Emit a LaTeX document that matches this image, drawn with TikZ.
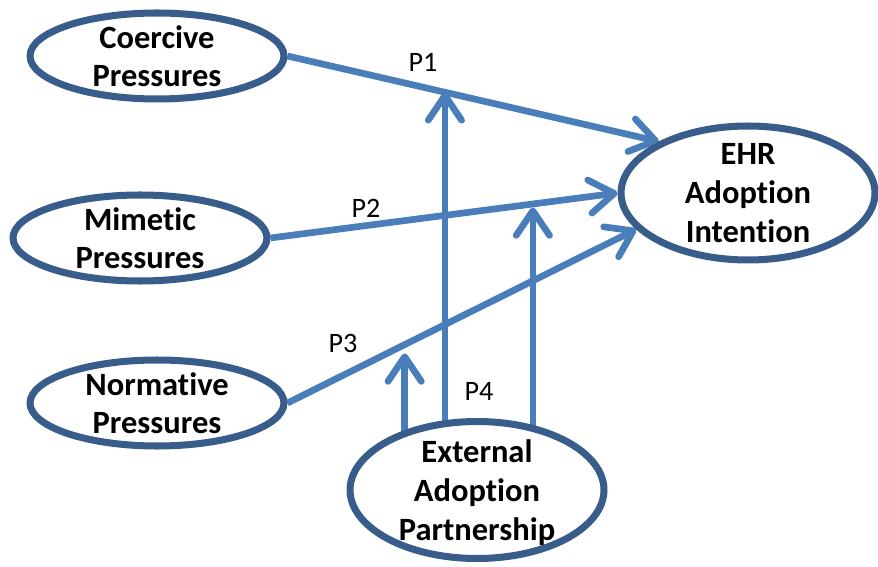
\documentclass[tikz,border=0pt]{standalone}
\usepackage{fontspec}
\setmainfont{Carlito}[Ligatures=NoCommon]
\usetikzlibrary{shapes.geometric,arrows.meta,backgrounds}
\definecolor{rim}{HTML}{385D8A}
\definecolor{linkblue}{HTML}{4A7EBB}

\begin{document}
\begin{tikzpicture}[x=0.02cm,y=-0.02cm,
  construct/.style={ellipse,draw=rim,line width=4pt,fill=white,minimum width=5.08cm,minimum height=1.72cm,inner xsep=0pt,inner ysep=-0.3cm,text depth=0pt,align=center,font=\fontsize{18.5}{22}\selectfont\bfseries},
  prop/.style={draw=linkblue,line width=3.8pt,-{Straight Barb[length=14pt,width=19pt,round]}},
  plabel/.style={font=\fontsize{16}{19}\selectfont}]
\useasboundingbox (0,0) rectangle (878,567);
% constructs
\node[construct] (coer) at (157,56) {Coercive\\Pressures};
\node[construct] (mim) at (140,238) {Mimetic\\Pressures};
\node[construct] (norm) at (157,403) {Normative\\Pressures};
\node[construct,minimum height=2.68cm] (ehr) at (748,193) {EHR\\Adoption\\Intention};
\node[construct,minimum height=2.74cm,text depth=-4pt] (ext) at (477,490) {External\\Adoption\\Partnership};
% propositions
\node[plabel] (p1) at (423,62) {P1};
\node[plabel] (p2) at (366,208) {P2};
\node[plabel] (p3) at (343,343) {P3};
\node[plabel] (p4) at (479,391) {P4};
\begin{scope}[on background layer]
\draw[prop] (coer.east) -- coordinate[pos=0.424] (m1) (ehr.150);
\draw[prop] (mim.east) -- coordinate[pos=0.756] (m2) (ehr.west);
\draw[prop] (norm.east) -- coordinate[pos=0.336] (m3) (ehr.198);
% moderation by partnership
\draw[prop] (m1 |- ext.center) -- (m1);
\draw[prop,shorten >=2pt] (m2 |- ext.center) -- (m2);
\draw[prop,shorten >=5pt] (m3 |- ext.center) -- (m3);
\end{scope}
\end{tikzpicture}
\end{document}
